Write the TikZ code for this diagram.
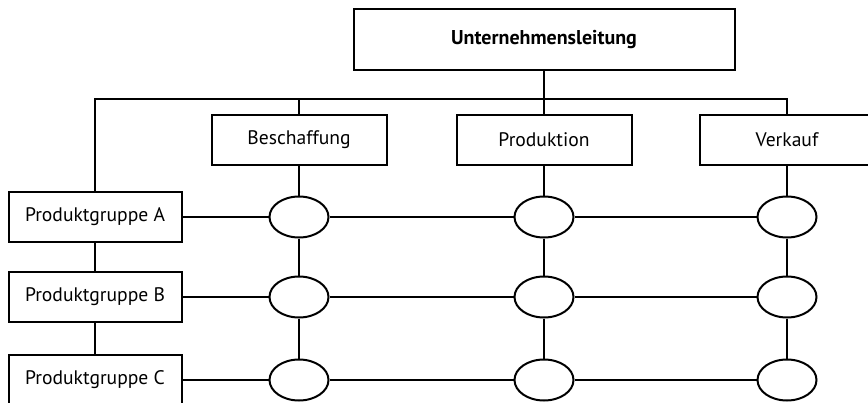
\documentclass[tikz,border=0pt]{standalone}
\usepackage{fontspec}
\setmainfont{PT Sans}
\usetikzlibrary{shapes.geometric}

\tikzset{
  unit/.style={draw, line width=1pt, minimum width=87.5pt, minimum height=25pt,
    inner sep=0pt, font=\fontsize{9.8}{11}\selectfont},
  group/.style={unit, minimum width=86.5pt},
  knot/.style={draw, ellipse, line width=1pt, minimum width=29.5pt,
    minimum height=20.5pt, inner sep=0pt},
}

\begin{document}
\begin{tikzpicture}[x=0.5pt, y=-0.5pt, line width=1pt]
    \clip (0,0) rectangle (868,402);
    % Leitung und Funktionen
    \node[unit, minimum width=190.5pt, minimum height=30.5pt,
      font=\bfseries\fontsize{10}{12}\selectfont] (top) at (544,39.5) {Unternehmensleitung};
    \node[unit] (bes) at (299,140) {Beschaffung};
    \node[unit] (prod) at (544,140) {Produktion};
    \node[unit] (ver) at (787,140) {Verkauf};
    % Produktgruppen
    \node[group] (pga) at (95,217) {Produktgruppe A};
    \node[group] (pgb) at (95,297) {Produktgruppe B};
    \node[group] (pgc) at (95,380) {Produktgruppe C};
    \foreach \c/\x in {b/299, p/544, v/787} {
      \foreach \r/\y in {a/217, b/297, c/380} {
        \node[knot] (\c\r) at (\x,\y) {};
      }
    }
    \coordinate (bus) at (544,99);
    \draw (pga.north) |- (bus) -| (ver.north);
    \draw (top) -- (prod);
    \draw (bes.north) -- (bes.north |- bus);
    \draw (pga) -- (pgb) -- (pgc);
    \foreach \r in {a,b,c} {
      \draw (pg\r) -- (b\r) -- (p\r) -- (v\r);
    }
    \foreach \c/\u in {b/bes, p/prod, v/ver} {
      \draw (\u) -- (\c a) -- (\c b) -- (\c c);
    }
\end{tikzpicture}
\end{document}
